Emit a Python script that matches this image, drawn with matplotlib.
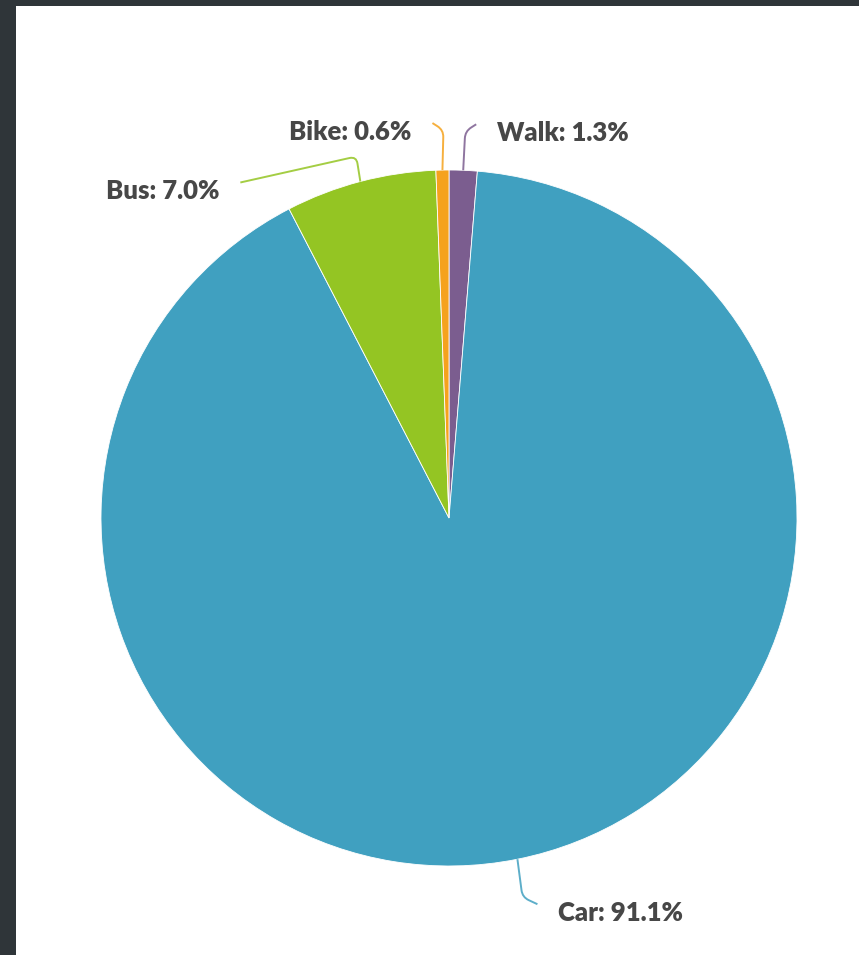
import matplotlib
matplotlib.use('Agg')
import matplotlib.pyplot as plt
from matplotlib.path import Path
from matplotlib.patches import PathPatch, Rectangle
import numpy as np

modes = ['Walk', 'Car', 'Bus', 'Bike']
shares = [1.3, 91.1, 7.0, 0.6]
colors = ['#7b5d8f', '#40a0c0', '#94c523', '#f5a21d']

W, H = 859, 955
center = (449, H - 518)
radius = 348

# leader shape per label: (corner offset, end offset) from the wedge edge, in px
leaders = {
    'Walk': ((2, 39), (13, 46)),
    'Car': ((5, -38), (20, -45)),
    'Bus': ((-4, 25), (-120, -1)),
    'Bike': ((1, 40), (-10, 47)),
}


def leader_path(p0, corner, end):
    c = np.array(corner, float)
    a = np.array(p0, float)
    b = np.array(end, float)
    pre = c + (a - c) / np.linalg.norm(a - c) * 7
    post = c + (b - c) / np.linalg.norm(b - c) * 7
    verts = [a, pre, c, post, b]
    codes = [Path.MOVETO, Path.LINETO, Path.CURVE3, Path.CURVE3, Path.LINETO]
    return Path(verts, codes)


def main():
    fig = plt.figure(figsize=(W / 100, H / 100), dpi=100)
    fig.patch.set_facecolor('#2f3539')
    fig.patches.append(Rectangle((16 / W, 0), 1, (H - 6) / H, transform=fig.transFigure,
                                 facecolor='white', edgecolor='none', zorder=-10))

    ax = fig.add_axes([0, 0, 1, 1])
    ax.patch.set_alpha(0)

    wedges, _ = ax.pie(shares, colors=colors, startangle=90, counterclock=False,
                       center=center, radius=radius, frame=True,
                       wedgeprops=dict(edgecolor='white', linewidth=0.6))
    ax.set_xlim(0, W)
    ax.set_ylim(0, H)
    ax.set_aspect('equal')
    ax.axis('off')

    for w, mode, share, col in zip(wedges, modes, shares, colors):
        theta = np.deg2rad((w.theta1 + w.theta2) / 2)
        p0 = (center[0] + radius * np.cos(theta), center[1] + radius * np.sin(theta))
        (cx, cy), (ex, ey) = leaders[mode]
        corner = (p0[0] + cx, p0[1] + cy)
        end = (p0[0] + ex, p0[1] + ey)
        ax.add_patch(PathPatch(leader_path(p0, corner, end), facecolor='none',
                               edgecolor=col, alpha=0.85, linewidth=1.4))
        side = 1 if ex > 0 else -1
        ax.text(end[0] + side * 21, end[1] - 9, f'{mode}: {share:.1f}%',
                ha='left' if side > 0 else 'right', va='center',
                fontsize=18.5, fontweight='heavy', family=['Lato', 'DejaVu Sans'],
                color='#474747')

    fig.savefig('out.png', dpi=100, facecolor=fig.get_facecolor())


main()
